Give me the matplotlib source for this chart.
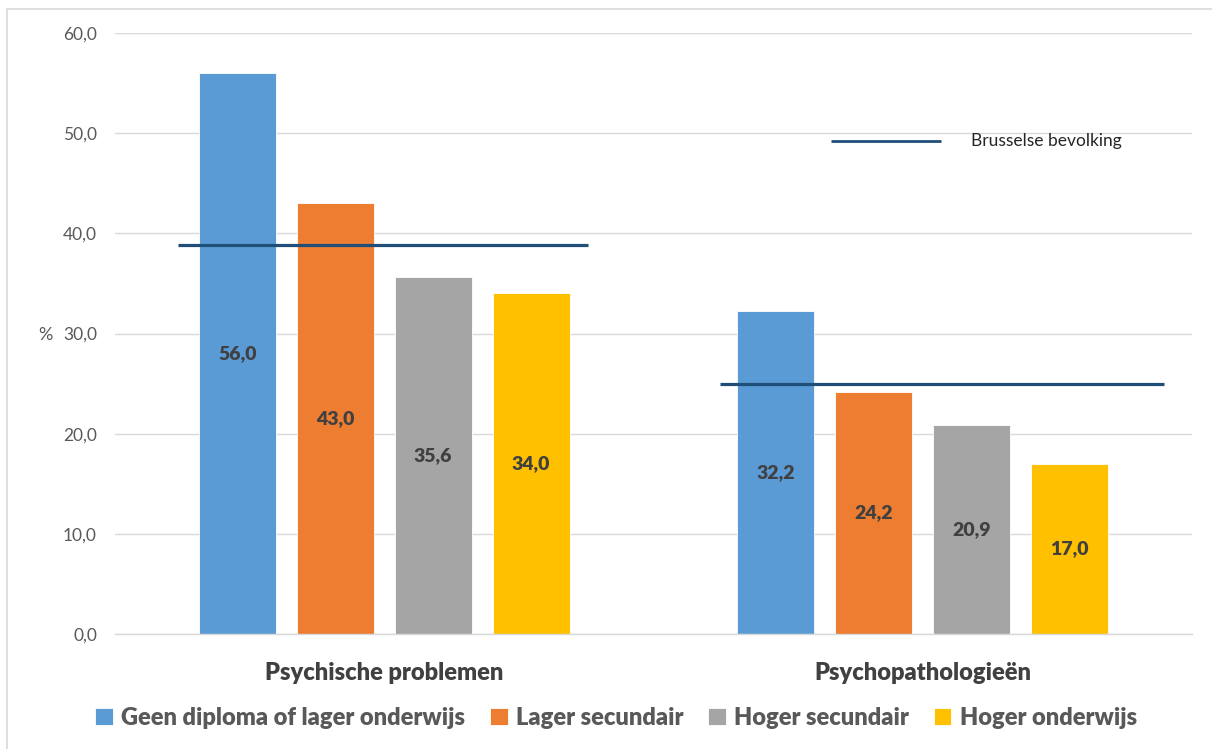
import matplotlib
matplotlib.use("Agg")
import matplotlib.pyplot as plt
from matplotlib.patches import Rectangle
from matplotlib.lines import Line2D
import numpy as np

plt.rcParams['font.family'] = ['Lato', 'DejaVu Sans']

categories = ["Psychische problemen", "Psychopathologieën"]
series_names = ["Geen diploma of lager onderwijs", "Lager secundair",
                "Hoger secundair", "Hoger onderwijs"]
values = [
    [56.0, 32.2],   # Geen diploma of lager onderwijs
    [43.0, 24.2],   # Lager secundair
    [35.6, 20.9],   # Hoger secundair
    [34.0, 17.0],   # Hoger onderwijs
]
population_name = "Brusselse bevolking"
population_values = [38.8, 25.0]
y_ticks = [0, 10, 20, 30, 40, 50, 60]

colors = ["#5B9BD5", "#ED7D31", "#A5A5A5", "#FFC000"]
line_color = "#1F4E79"

fig = plt.figure(figsize=(12.12, 7.49), dpi=100)
ax = fig.add_axes([115 / 1212, 1 - 634 / 749, (1192 - 115) / 1212, (634 - 33) / 749])

x = np.arange(len(categories))
step = 0.1818
width = 0.143
handles = []
for i, (name, vals) in enumerate(zip(series_names, values)):
    offs = (i - 1.5) * step
    bars = ax.bar(x + offs, vals, width=width, color=colors[i],
                  edgecolor="white", linewidth=0.6, label=name, zorder=2)
    handles.append(bars)
    for xi, v in zip(x, vals):
        ax.text(xi + offs, v / 2, f"{v:.1f}".replace(".", ","),
                ha="center", va="center", fontsize=14, fontweight="heavy",
                color="#404040", zorder=4)

# population reference lines per group
spans = [(-0.383, 0.379), (0.624, 1.448)]
for (x0, x1), pv in zip(spans, population_values):
    ax.plot([x0, x1], [pv, pv], color=line_color, linewidth=2.3, zorder=3,
            solid_capstyle="butt")

# key for the reference line
ax.add_line(Line2D([0.6645, 0.7665], [0.8197, 0.8197], transform=ax.transAxes,
                   color=line_color, linewidth=2.0, solid_capstyle="butt"))
ax.text(0.7945, 0.8197, population_name, transform=ax.transAxes,
        ha="left", va="center", fontsize=12.5, color="#262626")

ax.set_xlim(-0.5, 1.5)
ax.set_ylim(0, 60)
ax.set_yticks(y_ticks)
ax.set_yticklabels([f"{t:.1f}".replace(".", ",") for t in y_ticks],
                   fontsize=12.5, color="#595959")
ax.set_xticks(x)
ax.set_xticklabels(categories, fontsize=17, fontweight="heavy", color="#404040")
ax.tick_params(axis="y", length=0, pad=13)
ax.tick_params(axis="x", length=0, pad=20)
ax.grid(axis="y", color="#D9D9D9", linewidth=1.0, zorder=0)
ax.set_axisbelow(True)
for s in ["top", "right", "left"]:
    ax.spines[s].set_visible(False)
ax.spines["bottom"].set_color("#D9D9D9")
ax.spines["bottom"].set_linewidth(1.0)

fig.text(45 / 1212, 1 - 335 / 749, "%", ha="center", va="center",
         fontsize=13, color="#595959")

leg = fig.legend(handles=handles, labels=series_names, loc="center",
                 bbox_to_anchor=(616 / 1212, 1 - 718 / 749), ncol=4,
                 frameon=False, handlelength=0.75, handleheight=0.75,
                 handletextpad=0.35, columnspacing=1.05,
                 prop={"size": 17, "weight": "heavy"})
for t in leg.get_texts():
    t.set_color("#595959")

# chart frame
fig.add_artist(Rectangle((7 / 1212, -0.1), 1.2, 1 - 9 / 749 + 0.1,
                         transform=fig.transFigure, fill=False,
                         edgecolor="#D9D9D9", linewidth=1.2))

fig.savefig("out.png", dpi=100)
